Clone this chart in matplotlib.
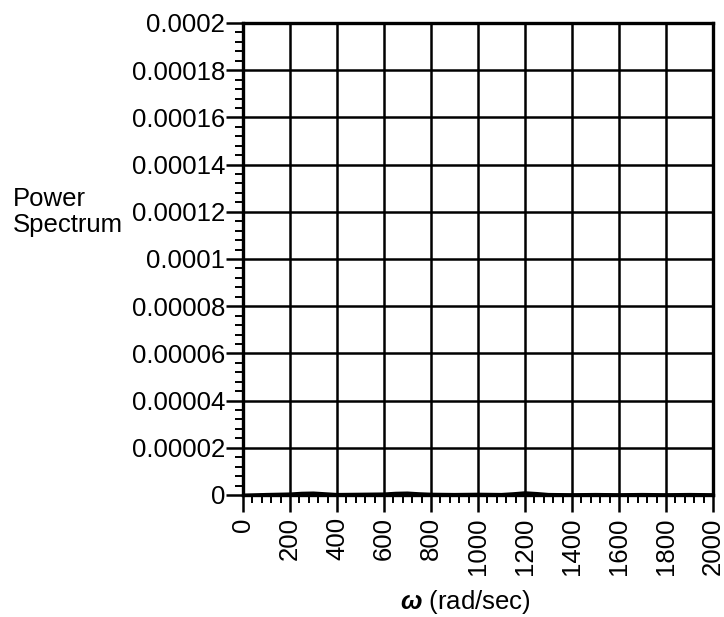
import matplotlib
matplotlib.use("Agg")
import matplotlib.pyplot as plt
from matplotlib.ticker import MultipleLocator, FixedLocator

plt.rcParams['font.family'] = ['Liberation Sans', 'DejaVu Sans']
plt.rcParams['mathtext.fontset'] = 'custom'
plt.rcParams['mathtext.it'] = 'Liberation Sans:italic:bold'
plt.rcParams['mathtext.rm'] = 'Liberation Sans'

# data (spectrum is almost flat at zero)
omega = [0, 100, 200, 250, 300, 350, 400, 500, 600, 650, 700, 750, 800,
         900, 1000, 1100, 1150, 1200, 1250, 1300, 1400, 1500, 1600, 1700,
         1800, 1900, 2000]
power = [0.0, 0.3e-6, 0.5e-6, 0.8e-6, 0.9e-6, 0.6e-6, 0.3e-6, 0.4e-6,
         0.5e-6, 0.8e-6, 0.9e-6, 0.6e-6, 0.4e-6, 0.3e-6, 0.4e-6, 0.3e-6,
         0.6e-6, 1.0e-6, 0.7e-6, 0.3e-6, 0.2e-6, 0.3e-6, 0.2e-6, 0.3e-6,
         0.2e-6, 0.3e-6, 0.2e-6]

xticks = [0, 200, 400, 600, 800, 1000, 1200, 1400, 1600, 1800, 2000]
yticks = [0, 0.00002, 0.00004, 0.00006, 0.00008, 0.0001, 0.00012,
          0.00014, 0.00016, 0.00018, 0.0002]
ytick_labels = ['0', '0.00002', '0.00004', '0.00006', '0.00008', '0.0001',
                '0.00012', '0.00014', '0.00016', '0.00018', '0.0002']

fig = plt.figure(figsize=(7.24, 6.17), dpi=100)
ax = fig.add_axes([243/724, 1-495/617, (713-243)/724, (495-23)/617])

ax.plot(omega, power, color='black', lw=2)

ax.set_xlim(0, 2000)
ax.set_ylim(0, 0.0002)
ax.xaxis.set_major_locator(FixedLocator(xticks))
ax.yaxis.set_major_locator(FixedLocator(yticks))
ax.set_yticklabels(ytick_labels)
ax.set_xticklabels([str(v) for v in xticks], rotation=90)
ax.xaxis.set_minor_locator(MultipleLocator(40))
ax.yaxis.set_minor_locator(MultipleLocator(0.000004))

ax.grid(True, which='major', color='black', lw=1.8)
for s in ax.spines.values():
    s.set_linewidth(2.4)

ax.tick_params(which='major', direction='out', length=12, width=1.8,
               labelsize=18.5, colors='black')
ax.tick_params(axis='y', which='major', pad=1)
ax.tick_params(axis='x', which='major', pad=4)
ax.tick_params(which='minor', direction='out', length=6, width=1.4)

fig.text(13/724, 1-212/617, 'Power\nSpectrum', ha='left', va='center',
         fontsize=18.5, linespacing=1.1)
ax.set_xlabel(r'$\mathit{\omega}$ (rad/sec)', fontsize=18.5)
ax.xaxis.set_label_coords((465-243)/470, (495-588)/472)

fig.savefig('out.png', dpi=100)
